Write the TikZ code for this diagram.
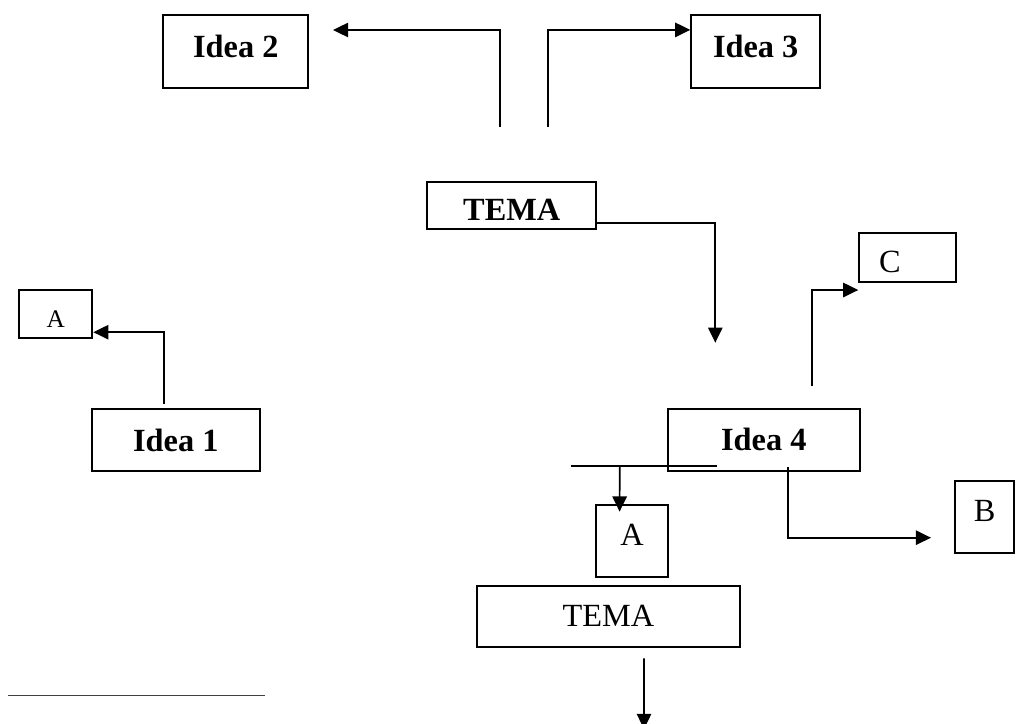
\documentclass[tikz,border=0pt]{standalone}
\usepackage{fontspec}
\setmainfont{Liberation Serif}
\usetikzlibrary{arrows.meta}
\tikzset{
box/.style={ % plain text box
draw,
line width=1.4pt,
inner sep=0pt,
text depth=0pt,
font=\fontsize{23}{27}\selectfont},
idea/.style={box, font=\fontsize{23}{27}\selectfont\bfseries},
link/.style={line width=1.2pt, -{Triangle[length=3.8mm,width=3.6mm]}},
plain/.style={line width=1.2pt}}

\begin{document}
\begin{tikzpicture}[x=0.025cm, y=-0.025cm]
	\useasboundingbox (0,0) rectangle (1016,723);
	\node[idea, minimum width=3.625cm, minimum height=1.825cm, text height=0.29cm] (idea2) at (235.8,51.5) {Idea 2};
	\node[idea, minimum width=3.22cm, minimum height=1.825cm, text height=0.29cm] (idea3) at (755.7,51.5) {Idea 3};
	\node[idea, minimum width=4.22cm, minimum height=1.19cm, text height=0.76cm] (tema) at (511.7,205.5) {TEMA};
	\node[box, minimum width=2.42cm, minimum height=1.21cm, text height=0.74cm] (c) at (907.7,257.5) {C\hspace{0.89cm}\null};
	\node[box, minimum width=1.825cm, minimum height=1.21cm, text height=0.675cm, font=\fontsize{18}{22}\selectfont] (a1) at (55.8,314.2) {A};
	\node[idea, minimum width=4.21cm, minimum height=1.5625cm, text height=0.6cm] (idea1) at (175.8,439.8) {Idea 1};
	\node[idea, minimum width=4.81cm, minimum height=1.54cm, text height=0.55cm] (idea4) at (763.8,439.9) {Idea 4};
	\node[box, minimum width=1.47cm, minimum height=1.815cm, text height=0.235cm] (b) at (984.7,517) {B};
	\node[box, minimum width=1.815cm, minimum height=1.81cm, text height=0.225cm] (a2) at (632,541.2) {A};
	\node[box, minimum width=6.575cm, minimum height=1.52cm, text height=0.515cm] (tema2) at (608.5,616.4) {TEMA};
	% free ends
	\coordinate (s2) at (500,127);
	\coordinate (e2) at (333,30);
	\coordinate (s3) at (548,127);
	\coordinate (e4) at (715.3,342.7);
	\coordinate (s5) at (811.7,386);
	\coordinate (h1) at (571,466);
	\coordinate (h2) at (716.7,466);
	\coordinate (ha) at (619.7,466);
	\coordinate (eb) at (931,537.7);
	\coordinate (e6) at (644,729);
	\coordinate (f1) at (8,695);
	\coordinate (f2) at (265,695);
	\draw[link] (s2) |- (e2);
	\draw[link] (s3) |- ([yshift=0.54cm]idea3.west);
	\draw[link] ([yshift=-0.445cm]tema.east) -| (e4);
	\draw[link] (s5) |- ([yshift=-0.8125cm]c.west);
	\draw[link] ([xshift=-0.295cm, yshift=0.09cm]idea1.north) |- ([yshift=-0.45cm]a1.east);
	\draw[plain] (h1) -- (h2);
	\draw[link] (ha) -- ([xshift=-0.31cm, yshift=-0.19cm]a2.north);
	\draw[link] ([xshift=0.6cm, yshift=0.12cm]idea4.south) |- (eb);
	\draw[link] ([xshift=0.8875cm, yshift=-0.265cm]tema2.south) -- (e6);
	\draw[line width=0.7pt, black!75] (f1) -- (f2);
\end{tikzpicture}
\end{document}
